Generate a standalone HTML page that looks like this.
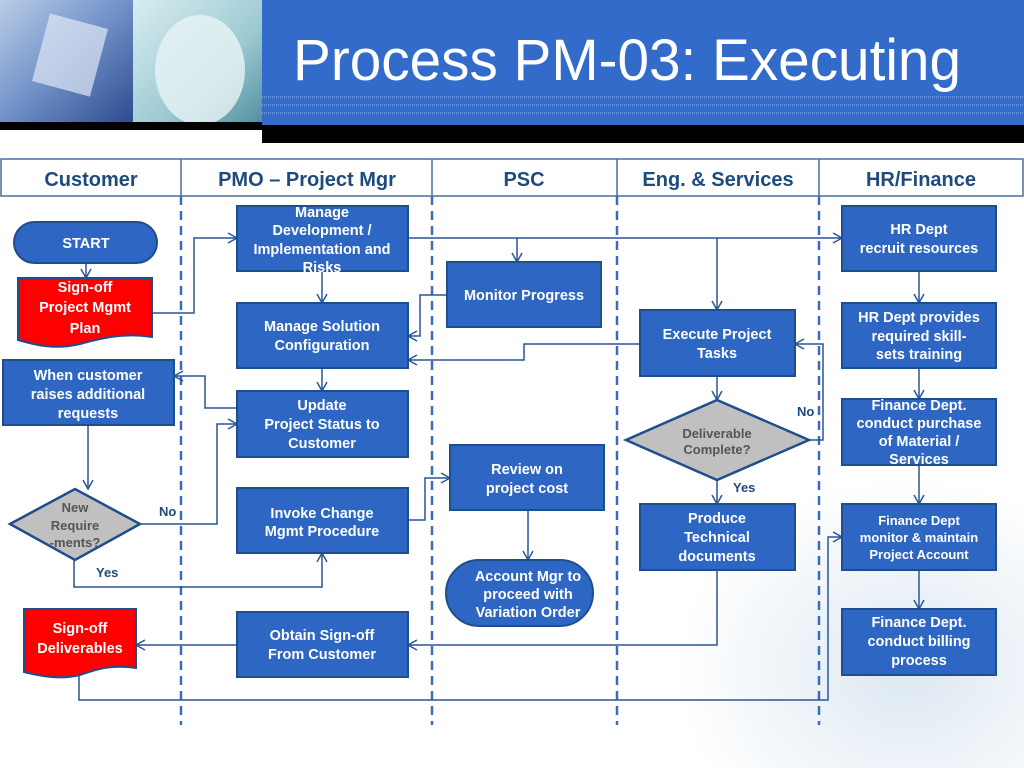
<!DOCTYPE html>
<html><head><meta charset="utf-8"><style>
html,body{margin:0;padding:0;background:#fff;}
body{width:1024px;height:768px;overflow:hidden;position:relative;font-family:"Liberation Sans",Arial,sans-serif;}
svg{position:absolute;left:0;top:0;}
</style></head><body>
<svg width="1024" height="768" viewBox="0 0 1024 768" xmlns="http://www.w3.org/2000/svg" font-family="Liberation Sans, Arial, sans-serif">
<defs>
<linearGradient id="ph1" x1="0" y1="0" x2="1" y2="1"><stop offset="0" stop-color="#b9cde8"/><stop offset="0.5" stop-color="#6f8fc6"/><stop offset="1" stop-color="#2c4a8e"/></linearGradient>
<linearGradient id="ph2" x1="0" y1="0" x2="1" y2="1"><stop offset="0" stop-color="#d8eef0"/><stop offset="0.6" stop-color="#9cc9d2"/><stop offset="1" stop-color="#4f8fa0"/></linearGradient>
<radialGradient id="bg" cx="0.75" cy="0.75" r="0.5"><stop offset="0" stop-color="#dde8f2"/><stop offset="1" stop-color="#ffffff"/></radialGradient>
<marker id="a" markerWidth="12" markerHeight="12" refX="10" refY="6" orient="auto" markerUnits="userSpaceOnUse"><path d="M1,1 L10,6 L1,11" fill="none" stroke="#2a5597" stroke-width="1.5"/></marker>
</defs>
<rect x="0" y="0" width="1024" height="768" fill="#fff"/>
<rect x="560" y="380" width="464" height="388" fill="url(#bg)"/>
<!-- header -->
<rect x="0" y="0" width="133" height="125" fill="url(#ph1)"/>
<rect x="133" y="0" width="129" height="125" fill="url(#ph2)"/>
<ellipse cx="200" cy="70" rx="45" ry="55" fill="#e8f4f5" opacity="0.8"/>
<rect x="40" y="20" width="60" height="70" fill="#dfe8f5" opacity="0.7" transform="rotate(15 70 55)"/>
<rect x="262" y="0" width="762" height="125" fill="#326bc9"/>
<text x="293" y="80" font-size="58" fill="#fff" textLength="668" lengthAdjust="spacingAndGlyphs">Process PM-03: Executing</text>
<g stroke="#9db8e6" stroke-width="1" stroke-dasharray="1,1"><line x1="262" y1="97" x2="1024" y2="97"/><line x1="262" y1="105" x2="1024" y2="105"/><line x1="262" y1="113" x2="1024" y2="113"/></g>
<rect x="0" y="122" width="262" height="8" fill="#000"/>
<rect x="262" y="125" width="762" height="18" fill="#000"/>
<!-- lane header -->
<rect x="1" y="159" width="1022" height="37" fill="#fff" stroke="#4a6d9a" stroke-width="1.5"/>
<g stroke="#4a6d9a" stroke-width="1.5"><line x1="181" y1="159" x2="181" y2="196"/><line x1="432" y1="159" x2="432" y2="196"/><line x1="617" y1="159" x2="617" y2="196"/><line x1="819" y1="159" x2="819" y2="196"/></g>
<g font-size="20" font-weight="bold" fill="#1f4a7c" text-anchor="middle">
<text x="91" y="186">Customer</text><text x="307" y="186">PMO – Project Mgr</text><text x="524" y="186">PSC</text><text x="718" y="186">Eng. &amp; Services</text><text x="921" y="186">HR/Finance</text></g>
<g stroke="#3a6cb8" stroke-width="2.5" stroke-dasharray="9,6"><line x1="181" y1="196" x2="181" y2="725"/><line x1="432" y1="196" x2="432" y2="725"/><line x1="617" y1="196" x2="617" y2="725"/><line x1="819" y1="196" x2="819" y2="725"/></g>
<!-- connectors -->
<g fill="none" stroke="#2a5597" stroke-width="1.5">
<path d="M86,263 V278" marker-end="url(#a)"/>
<path d="M152,313 H194 V238 H237" marker-end="url(#a)"/>
<path d="M408,238 H842" marker-end="url(#a)"/>
<path d="M517,238 V262" marker-end="url(#a)"/>
<path d="M717,238 V310" marker-end="url(#a)"/>
<path d="M322,271 V303" marker-end="url(#a)"/>
<path d="M447,295 H420 V336 H408" marker-end="url(#a)"/>
<path d="M640,344 H524 V360 H408" marker-end="url(#a)"/>
<path d="M322,368 V391" marker-end="url(#a)"/>
<path d="M237,408 H205 V376 H174" marker-end="url(#a)"/>
<path d="M88,425 V489" marker-end="url(#a)"/>
<path d="M140,524 H217 V424 H237" marker-end="url(#a)"/>
<path d="M74,560 V587 H322 V553" marker-end="url(#a)"/>
<path d="M408,520 H425 V478 H450" marker-end="url(#a)"/>
<path d="M528,510 V560" marker-end="url(#a)"/>
<path d="M717,376 V400" marker-end="url(#a)"/>
<path d="M717,480 V504" marker-end="url(#a)"/>
<path d="M810,440 H823 V344 H795" marker-end="url(#a)"/>
<path d="M717,570 V645 H408" marker-end="url(#a)"/>
<path d="M237,645 H136" marker-end="url(#a)"/>
<path d="M79,676 V700 H828 V537 H842" marker-end="url(#a)"/>
<path d="M919,271 V303" marker-end="url(#a)"/>
<path d="M919,368 V399" marker-end="url(#a)"/>
<path d="M919,465 V504" marker-end="url(#a)"/>
<path d="M919,570 V609" marker-end="url(#a)"/>
</g>
<!-- shapes -->
<g fill="#2e66c4" stroke="#1f4e8c" stroke-width="2">
<rect x="14" y="222" width="143" height="41" rx="20.5"/>
<rect x="3" y="360" width="171" height="65"/>
<rect x="237" y="206" width="171" height="65"/>
<rect x="237" y="303" width="171" height="65"/>
<rect x="237" y="391" width="171" height="66"/>
<rect x="237" y="488" width="171" height="65"/>
<rect x="237" y="612" width="171" height="65"/>
<rect x="447" y="262" width="154" height="65"/>
<rect x="450" y="445" width="154" height="65"/>
<rect x="446" y="560" width="147" height="66" rx="33"/>
<rect x="640" y="310" width="155" height="66"/>
<rect x="640" y="504" width="155" height="66"/>
<rect x="842" y="206" width="154" height="65"/>
<rect x="842" y="303" width="154" height="65"/>
<rect x="842" y="399" width="154" height="66"/>
<rect x="842" y="504" width="154" height="66"/>
<rect x="842" y="609" width="154" height="66"/>
</g>
<g fill="#ff0000" stroke="#1f4e8c" stroke-width="2">
<path d="M18,278 H152 V337 C120,332 95,340 80,344 C55,350 35,345 18,340 Z"/>
<path d="M24,609 H136 V668 C110,664 95,670 80,675 C60,680 40,676 24,672 Z"/>
</g>
<g fill="#c0c0c0" stroke="#1f4e8c" stroke-width="2.5">
<path d="M10,524 L75,489 L140,524 L75,560 Z"/>
<path d="M626,440 L717,400 L809,440 L717,480 Z"/>
</g>
<!-- texts -->
<g font-size="14.5" font-weight="bold" fill="#fff" text-anchor="middle">
<text x="86" y="248">START</text>
<text x="85" y="292">Sign-off</text><text x="85" y="312">Project Mgmt</text><text x="85" y="333">Plan</text>
<text x="88" y="380">When customer</text><text x="88" y="399">raises additional</text><text x="88" y="418">requests</text>
<text x="80" y="633">Sign-off</text><text x="80" y="653">Deliverables</text>
<text x="322" y="217">Manage</text><text x="322" y="235">Development /</text><text x="322" y="254">Implementation and</text><text x="322" y="272">Risks</text>
<text x="322" y="331">Manage Solution</text><text x="322" y="350">Configuration</text>
<text x="322" y="410">Update</text><text x="322" y="429">Project Status to</text><text x="322" y="448">Customer</text>
<text x="322" y="518">Invoke Change</text><text x="322" y="536">Mgmt Procedure</text>
<text x="322" y="640">Obtain  Sign-off</text><text x="322" y="659">From Customer</text>
<text x="524" y="300">Monitor Progress</text>
<text x="527" y="474">Review on</text><text x="527" y="493">project cost</text>
<text x="528" y="581">Account Mgr to</text><text x="528" y="599">proceed with</text><text x="528" y="617">Variation Order</text>
<text x="717" y="339">Execute Project</text><text x="717" y="358">Tasks</text>
<text x="717" y="523">Produce</text><text x="717" y="542">Technical</text><text x="717" y="561">documents</text>
<text x="919" y="234">HR Dept</text><text x="919" y="253">recruit resources</text>
<text x="919" y="322">HR Dept provides</text><text x="919" y="341">required skill-</text><text x="919" y="359">sets training</text>
<text x="919" y="410">Finance Dept.</text><text x="919" y="428">conduct purchase</text><text x="919" y="446">of Material /</text><text x="919" y="464">Services</text>
<text x="919" y="627">Finance Dept.</text><text x="919" y="646">conduct billing</text><text x="919" y="665">process</text>
</g>
<g font-size="13" font-weight="bold" fill="#fff" text-anchor="middle">
<text x="919" y="525">Finance  Dept</text><text x="919" y="542">monitor &amp; maintain</text><text x="919" y="559">Project Account</text>
</g>
<g font-size="13" font-weight="bold" fill="#555" text-anchor="middle">
<text x="75" y="512">New</text><text x="75" y="530">Require</text><text x="75" y="547">-ments?</text>
<text x="717" y="438">Deliverable</text><text x="717" y="454">Complete?</text>
</g>
<g font-size="13" font-weight="bold" fill="#1f4a7c">
<text x="159" y="516">No</text><text x="96" y="577">Yes</text>
<text x="797" y="416">No</text><text x="733" y="492">Yes</text>
</g>
</svg>
</body></html>
